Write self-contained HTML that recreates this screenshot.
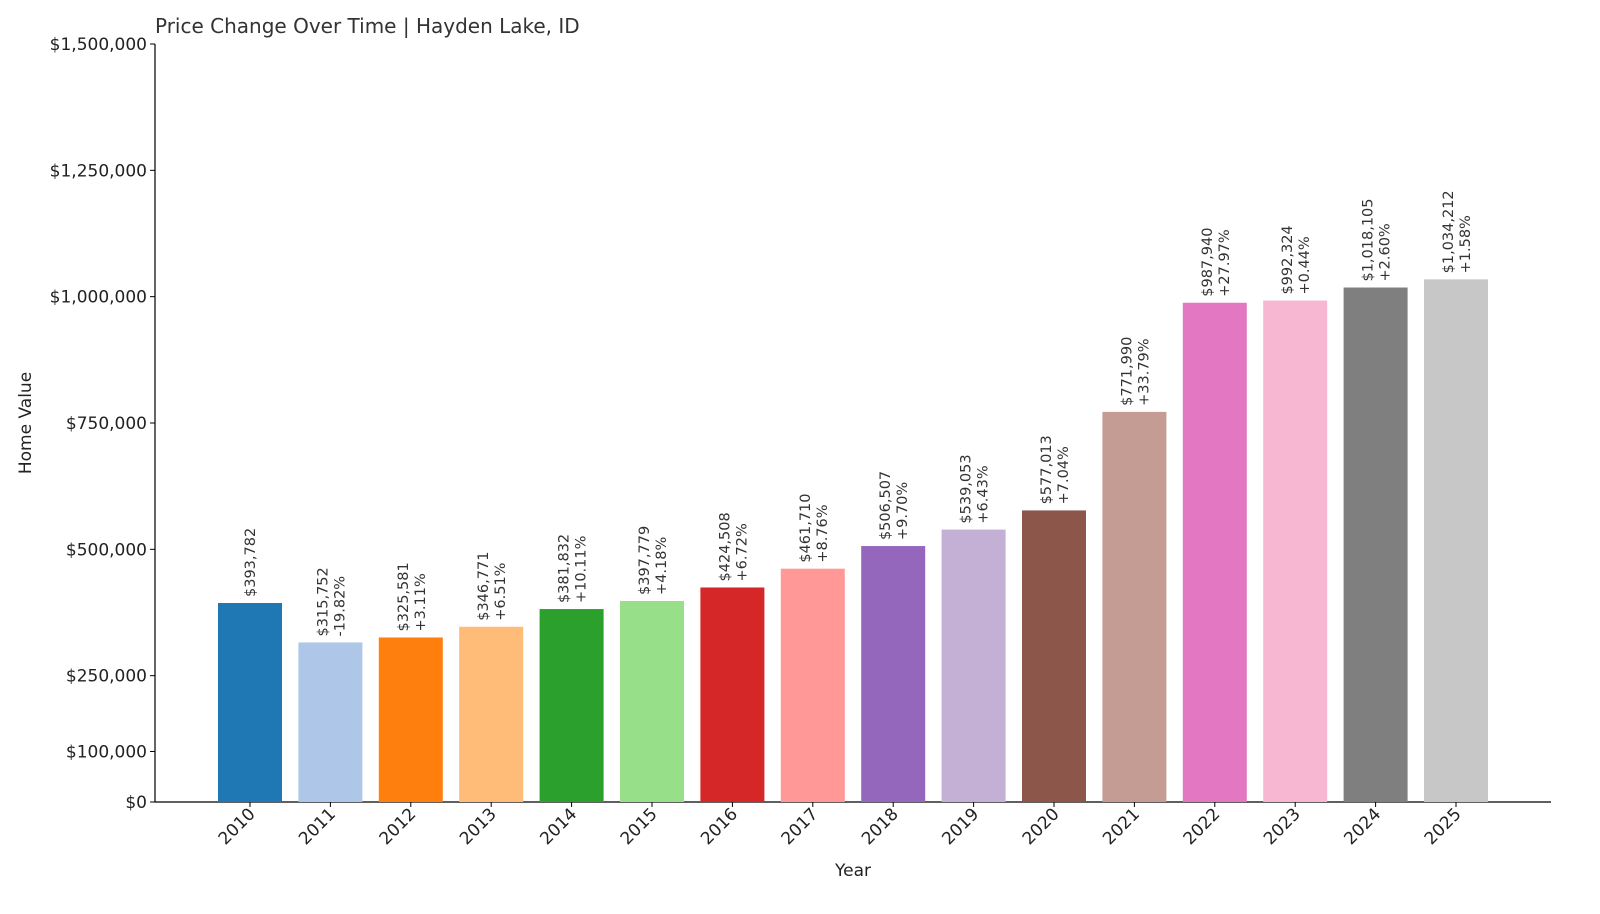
<!DOCTYPE html>
<html><head><meta charset="utf-8"><style>
body{margin:0;background:#fff;}
svg{display:block;font-family:"DejaVu Sans","Liberation Sans",sans-serif;}
</style></head><body>
<svg id="chart" width="1600" height="914"></svg>
<script>
const years=["2010","2011","2012","2013","2014","2015","2016","2017","2018","2019","2020","2021","2022","2023","2024","2025"];
const values=[393782,315752,325581,346771,381832,397779,424508,461710,506507,539053,577013,771990,987940,992324,1018105,1034212];
const valueLabels=["$393,782","$315,752","$325,581","$346,771","$381,832","$397,779","$424,508","$461,710","$506,507","$539,053","$577,013","$771,990","$987,940","$992,324","$1,018,105","$1,034,212"];
const pctLabels=["","-19.82%","+3.11%","+6.51%","+10.11%","+4.18%","+6.72%","+8.76%","+9.70%","+6.43%","+7.04%","+33.79%","+27.97%","+0.44%","+2.60%","+1.58%"];
const yTicks=[0,100000,250000,500000,750000,1000000,1250000,1500000];
const yTickLabels=["$0","$100,000","$250,000","$500,000","$750,000","$1,000,000","$1,250,000","$1,500,000"];
const colors=["#1f77b4","#aec7e8","#ff7f0e","#ffbb78","#2ca02c","#98df8a","#d62728","#ff9896","#9467bd","#c5b0d5","#8c564b","#c49c94","#e377c2","#f7b6d2","#7f7f7f","#c7c7c7"];
const NS="http://www.w3.org/2000/svg";
const svg=document.getElementById('chart');
const y0=802,yTop=44,yMax=1500000;
const yScale=v=>y0-(v/yMax)*(y0-yTop);
const xScale=i=>250+i*80.4;
const bw=64;
function mk(tag,attrs,parent){const e=document.createElementNS(NS,tag);for(const k in attrs)e.setAttribute(k,attrs[k]);(parent||svg).appendChild(e);return e;}
let t=mk('text',{x:155,y:33,'font-size':20,fill:'#333'});


t.textContent="Price Change Over Time | Hayden Lake, ID";
let ax=mk('line',{x1:155,y1:44,x2:155,y2:802,stroke:'#000','stroke-width':1.2});


let bx=mk('line',{x1:155,y1:802,x2:1551,y2:802,stroke:'#000','stroke-width':1.2});


yTicks.forEach((v,i)=>{
 const y=yScale(v);
 mk('line',{x1:150,y1:y,x2:155,y2:y,stroke:'#000'});
 const l=mk('text',{x:147,y:y+6,'font-size':17,fill:'#222','text-anchor':'end'});
 
 
 l.textContent=yTickLabels[i];
});
values.forEach((v,i)=>{
 const cx=xScale(i),top=yScale(v);
 const r=mk('rect',{x:cx-bw/2,y:top,width:bw,height:y0-top,fill:colors[i]});
 
 
 mk('line',{x1:cx,y1:802,x2:cx,y2:807,stroke:'#000'});
 const tl=mk('text',{transform:`translate(${cx+6},${815}) rotate(-45)`,'font-size':17,fill:'#222','text-anchor':'end'});
 
 
 tl.textContent=years[i];
 const g=mk('text',{transform:`translate(${cx},${top-6}) rotate(-90)`,'font-size':14.5,fill:'#333'});
 
 
 if(pctLabels[i]){
  const a=mk('tspan',{x:0,y:-3},g);a.textContent=valueLabels[i];
  const b=mk('tspan',{x:0,y:14},g);b.textContent=pctLabels[i];
 } else {
  const a=mk('tspan',{x:0,y:5},g);a.textContent=valueLabels[i];
 }
});
let xt=mk('text',{x:853,y:876,'font-size':17,fill:'#222','text-anchor':'middle'});


xt.textContent="Year";
let yt=mk('text',{transform:'translate(31,423) rotate(-90)','font-size':17,fill:'#222','text-anchor':'middle'});


yt.textContent="Home Value";
</script>
</body></html>
